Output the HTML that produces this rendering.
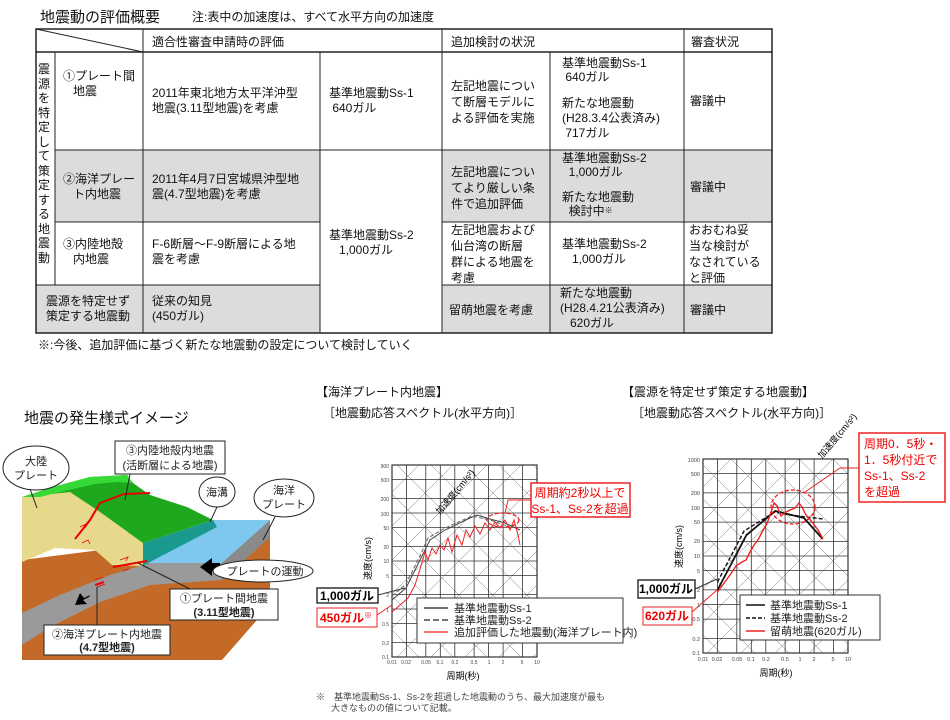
<!DOCTYPE html>
<html><head><meta charset="utf-8"><style>
*{margin:0;padding:0;box-sizing:border-box}
body{width:950px;height:720px;background:#fff;position:relative;overflow:hidden;font-family:"Liberation Sans","Noto Sans CJK JP",sans-serif;color:#111}
.t{position:absolute;font-size:12px;line-height:15px;white-space:nowrap}
svg{position:absolute;left:0;top:0}
</style></head><body>
<svg width="950" height="720" viewBox="0 0 950 720" font-family="Liberation Sans, Noto Sans CJK JP, sans-serif">
<defs>
<pattern id="dg" patternUnits="userSpaceOnUse" width="34" height="34"><path d="M0 34L34 0M0 0L34 34M-4 4L4 -4M30 38L38 30M-4 30L4 38M30 -4L38 4" stroke="#777" stroke-width="0.5" fill="none"/></pattern>
<clipPath id="c1"><rect x="392" y="465" width="145" height="192"/></clipPath>
<clipPath id="c2"><rect x="703" y="459" width="145" height="194"/></clipPath>
</defs>
<rect x="55" y="150" width="265" height="72" fill="#dcdcdc"/>
<rect x="442" y="150" width="330" height="72" fill="#dcdcdc"/>
<rect x="36" y="285" width="284" height="48" fill="#dcdcdc"/>
<rect x="442" y="285" width="330" height="48" fill="#dcdcdc"/>
<g stroke="#222" stroke-width="1" fill="none">
<rect x="36" y="29" width="736" height="304" stroke-width="1.5"/>
<line x1="36" y1="52" x2="772" y2="52" stroke-width="1.5"/>
<line x1="36" y1="29" x2="143" y2="52"/>
<line x1="143" y1="29" x2="143" y2="333"/>
<line x1="442" y1="29" x2="442" y2="333"/>
<line x1="684" y1="29" x2="684" y2="333"/>
<line x1="320" y1="52" x2="320" y2="333"/>
<line x1="550" y1="52" x2="550" y2="333"/>
<line x1="55" y1="52" x2="55" y2="285"/>
<line x1="55" y1="150" x2="442" y2="150"/>
<line x1="442" y1="150" x2="772" y2="150"/>
<line x1="55" y1="222" x2="320" y2="222"/>
<line x1="442" y1="222" x2="772" y2="222"/>
<line x1="36" y1="285" x2="320" y2="285"/>
<line x1="442" y1="285" x2="772" y2="285"/>
</g>

<polygon points="22,560 140,545 222,570 270,535 270,605 222,660 22,660" fill="#c46a28"/>
<polygon points="22,613 60,595 110,575 150,563 222,560 270,520 270,537 222,580 150,585 100,602 50,627 22,645" fill="#9a9a9a"/>
<polygon points="22,497 70,486 100,505 143,543 143,566 112,565 95,550 55,548 22,562" fill="#e6d98c"/>
<polygon points="22,497 53,487 90,477 127,475 133,483 150,495 187,507 213,520 143,543 100,512 70,492" fill="#1ea81e"/>
<polygon points="22,497 53,487 90,477 127,475 133,483 118,482 95,484 60,492 40,497" fill="#36d936"/>
<polygon points="213,520 270,520 222,563 148,563" fill="#7ec8f0"/>
<polygon points="143,543 213,520 217,527 148,563 143,566" fill="#1a9a8e"/>
<polygon points="222,563 270,520 270,537 222,580" fill="#8a8a8a"/>
<g stroke="#e00" stroke-width="2" fill="none">
<polyline points="75,539 90,520 100,503 124,494 150,493"/>
<line x1="113" y1="567" x2="147" y2="561"/>
<line x1="95" y1="585" x2="104" y2="582"/>
</g>
<g stroke="#e00" stroke-width="0.8" fill="none">
<path d="M80 527l8-4-3 5M82 543l6-3 2 4M120 560l8-3-2 4M123 571l6-2M95 580l8-3M97 587l8-3"/>
</g>
<path d="M204 563h8v-5l-12 9 12 9v-5h8v-8z" fill="#000"/>
<path d="M90 595l-6 3-4-5-5 12 12-1-4-4 6-3z" fill="#000"/>
<g fill="#fff" stroke="#222" stroke-width="1">
<ellipse cx="36" cy="468" rx="33" ry="22"/>
<ellipse cx="217" cy="492" rx="18" ry="15"/>
<ellipse cx="284" cy="498" rx="30" ry="19"/>
<ellipse cx="263" cy="571" rx="50" ry="11"/>
<rect x="115" y="441" width="110" height="33"/>
<rect x="170" y="589" width="108" height="31"/>
<rect x="44" y="625" width="126" height="30"/>
</g>
<g stroke="#222" stroke-width="1" fill="none">
<line x1="30" y1="489" x2="37" y2="508"/>
<line x1="130" y1="474" x2="125" y2="500"/>
<line x1="217" y1="507" x2="210" y2="522"/>
<line x1="275" y1="517" x2="263" y2="540"/>
<line x1="138" y1="563" x2="190" y2="589"/>
<line x1="97" y1="587" x2="97" y2="625"/>
</g>
<g font-size="11" text-anchor="middle" fill="#222">
<text x="36" y="465">大陸</text><text x="36" y="479">プレート</text>
<text x="217" y="496">海溝</text>
<text x="284" y="494">海洋</text><text x="284" y="508">プレート</text>
<text x="265" y="575">プレートの運動</text>
<text x="170" y="454">③内陸地殻内地震</text><text x="170" y="469">(活断層による地震)</text>
<text x="224" y="602">①プレート間地震</text><text x="224" y="616" font-weight="bold">(3.11型地震)</text>
<text x="107" y="638">②海洋プレート内地震</text><text x="107" y="651" font-weight="bold">(4.7型地震)</text>
</g>

<g clip-path="url(#c1)"><rect x="380" y="450" width="180" height="220" fill="url(#dg)"/></g>
<g stroke="#333" stroke-width="0.8">
<path d="M392 657H537M392 642.6H537M392 623.4H537M392 609H537M392 594.6H537M392 575.4H537M392 561H537M392 546.6H537M392 527.4H537M392 513H537M392 498.6H537M392 479.4H537M392 465H537"/>
<path d="M392 465V657M406.5 465V657M425.8 465V657M440.3 465V657M454.8 465V657M474.1 465V657M488.6 465V657M503.1 465V657M522.4 465V657M537 465V657"/>
</g>
<rect x="392" y="465" width="145" height="192" fill="none" stroke="#333" stroke-width="1.2"/>
<g fill="none" stroke-width="1">
<polyline stroke="#444" points="392,600 406,588 420,560 430,540 445,530 470,518 477,515 490,519 505,523 520,530"/>
<polyline stroke="#666" stroke-dasharray="4,2" points="392,596 406,584 420,556 428,538 445,528 472,516 490,520 510,527"/>
<polyline stroke="#e22" points="392,612 408,598 415,585 421,566 425,552 428,560 432,548 436,554 440,545 444,550 448,538 452,552 457,535 462,545 466,530 470,537 475,526 480,534 485,523 490,530 495,522 500,528 505,520 510,530 514,520 518,535 520,545"/>
</g>
<ellipse cx="503" cy="520" rx="16" ry="7" fill="none" stroke="#e22" stroke-width="1.3" stroke-dasharray="4,2"/>
<polyline points="505,513 508,500 531,500" fill="none" stroke="#e22" stroke-width="1"/>
<rect x="531" y="483" width="99" height="34" fill="#fff" stroke="#e22" stroke-width="1.5"/>
<g font-size="12" fill="#e00" text-anchor="middle"><text x="580" y="497">周期約2秒以上で</text><text x="580" y="513">Ss-1、Ss-2を超過</text></g>
<rect x="317" y="588" width="61" height="15" fill="#fff" stroke="#333" stroke-width="1.5"/>
<text x="347" y="600" font-size="12" font-weight="bold" text-anchor="middle">1,000ガル</text>
<line x1="378" y1="595" x2="405" y2="588" stroke="#333"/>
<rect x="317" y="608" width="60" height="19" fill="#fff" stroke="#e22" stroke-width="1"/>
<text x="346" y="622" font-size="12" font-weight="bold" fill="#e00" text-anchor="middle">450ガル<tspan font-size="8" dy="-4">※</tspan></text>
<line x1="377" y1="615" x2="392" y2="605" stroke="#e22"/>
<rect x="417" y="598" width="206" height="45" fill="#fff" stroke="#333"/>
<g stroke-width="1.2"><line x1="424" y1="608" x2="448" y2="608" stroke="#222"/><line x1="424" y1="620" x2="448" y2="620" stroke="#222" stroke-dasharray="6,3"/><line x1="424" y1="632" x2="448" y2="632" stroke="#e22"/></g>
<g font-size="11" fill="#222"><text x="454" y="612">基準地震動Ss-1</text><text x="454" y="624">基準地震動Ss-2</text><text x="454" y="636">追加評価した地震動(海洋プレート内)</text></g>
<g font-size="5" fill="#444" text-anchor="end"><text x="389" y="468">900</text><text x="389" y="482">500</text><text x="389" y="501">200</text><text x="389" y="516">100</text><text x="389" y="530">50</text><text x="389" y="549">20</text><text x="389" y="563">10</text><text x="389" y="578">5</text><text x="389" y="597">2</text><text x="389" y="612">1</text><text x="389" y="626">0.5</text><text x="389" y="645">0.2</text><text x="389" y="659">0.1</text></g>
<g font-size="5" fill="#444" text-anchor="middle"><text x="392" y="664">0.01</text><text x="406" y="664">0.02</text><text x="426" y="664">0.05</text><text x="440" y="664">0.1</text><text x="455" y="664">0.2</text><text x="474" y="664">0.5</text><text x="489" y="664">1</text><text x="503" y="664">2</text><text x="522" y="664">5</text><text x="537" y="664">10</text></g>
<text x="371" y="580" font-size="9" transform="rotate(-90 371 580)">速度(cm/s)</text>
<text x="440" y="515" font-size="9" transform="rotate(-50 440 515)">加速度(cm/s²)</text>
<text x="463" y="679" font-size="9" text-anchor="middle">周期(秒)</text>

<g clip-path="url(#c2)"><rect x="690" y="445" width="180" height="220" fill="url(#dg)"/></g>
<g stroke="#333" stroke-width="0.8">
<path d="M703 653H848M703 638.4H848M703 619.1H848M703 604.5H848M703 589.9H848M703 570.6H848M703 556H848M703 541.4H848M703 522.1H848M703 507.5H848M703 492.9H848M703 473.6H848M703 459H848"/>
<path d="M703 459V653M717.5 459V653M736.8 459V653M751.3 459V653M765.8 459V653M785.1 459V653M799.6 459V653M814.1 459V653M833.4 459V653M848 459V653"/>
</g>
<rect x="703" y="459" width="145" height="194" fill="none" stroke="#333" stroke-width="1.2"/>
<g fill="none">
<polyline stroke="#111" stroke-width="1.8" points="717.5,590 746.5,535 775.3,511 804,518 822.7,539"/>
<polyline stroke="#111" stroke-width="1.4" stroke-dasharray="4,2" points="717.5,582 744,531 775,512 790,515 823,519"/>
<polyline stroke="#e22" stroke-width="1.4" points="717.5,592 730,575 736,566 742,562 746,560 750,552 754,545 758,540 762,532 765,527 768,521 771,512 774,503 777,506 781,516 786,512 790,510 795,508 799,503 802,507 806,515 812,522 818,530 823,539"/>
</g>
<ellipse cx="793" cy="507" rx="22" ry="17" fill="none" stroke="#e22" stroke-width="1.3" stroke-dasharray="4,2"/>
<polyline points="805,492 840,468 859,468" fill="none" stroke="#e22" stroke-width="1"/>
<rect x="859" y="433" width="86" height="69" fill="#fff" stroke="#e22" stroke-width="1.5"/>
<g font-size="12" fill="#e00"><text x="864" y="448">周期0．5秒・</text><text x="864" y="464">1．5秒付近で</text><text x="864" y="480">Ss-1、Ss-2</text><text x="864" y="496">を超過</text></g>
<rect x="638" y="580" width="57" height="18" fill="#fff" stroke="#333" stroke-width="1.5"/>
<text x="666" y="593" font-size="12" font-weight="bold" text-anchor="middle">1,000ガル</text>
<line x1="695" y1="589" x2="717" y2="579" stroke="#333"/>
<rect x="643" y="607" width="49" height="18" fill="#fff" stroke="#e22" stroke-width="1"/>
<text x="667" y="620" font-size="12" font-weight="bold" fill="#e00" text-anchor="middle">620ガル</text>
<line x1="692" y1="612" x2="717" y2="590" stroke="#e22"/>
<rect x="740" y="595" width="140" height="45" fill="#fff" stroke="#333"/>
<g stroke-width="1.4"><line x1="746" y1="605" x2="765" y2="605" stroke="#111"/><line x1="746" y1="618" x2="765" y2="618" stroke="#111" stroke-dasharray="4,2"/><line x1="746" y1="631" x2="765" y2="631" stroke="#e22"/></g>
<g font-size="11" fill="#222"><text x="770" y="609">基準地震動Ss-1</text><text x="770" y="622">基準地震動Ss-2</text><text x="770" y="635">留萌地震(620ガル)</text></g>
<g font-size="5.5" fill="#444" text-anchor="end"><text x="700" y="462">1000</text><text x="700" y="476">500</text><text x="700" y="495">200</text><text x="700" y="510">100</text><text x="700" y="524">50</text><text x="700" y="543">20</text><text x="700" y="558">10</text><text x="700" y="573">5</text><text x="700" y="592">2</text><text x="700" y="607">1</text><text x="700" y="621">0.5</text><text x="700" y="641">0.2</text><text x="700" y="655">0.1</text></g>
<g font-size="5.5" fill="#444" text-anchor="middle"><text x="703" y="661">0.01</text><text x="717" y="661">0.02</text><text x="737" y="661">0.05</text><text x="751" y="661">0.1</text><text x="766" y="661">0.2</text><text x="785" y="661">0.5</text><text x="800" y="661">1</text><text x="814" y="661">2</text><text x="833" y="661">5</text><text x="848" y="661">10</text></g>
<text x="682" y="568" font-size="9" transform="rotate(-90 682 568)">速度(cm/s)</text>
<text x="822" y="459" font-size="9" transform="rotate(-50 822 459)">加速度(cm/s²)</text>
<text x="776" y="676" font-size="9" text-anchor="middle">周期(秒)</text>
</svg>

<div class="t" style="left:40px;top:8px;font-size:15px;line-height:20px">地震動の評価概要</div>
<div class="t" style="left:192px;top:10px;font-size:12px">注:表中の加速度は、すべて水平方向の加速度</div>
<div class="t" style="left:152px;top:35px">適合性審査申請時の評価</div>
<div class="t" style="left:451px;top:35px">追加検討の状況</div>
<div class="t" style="left:691px;top:35px">審査状況</div>
<div class="t" style="left:38px;top:62px;width:14px;white-space:normal;line-height:14.5px;font-size:12px">震源を特定して策定する地震動</div>
<div class="t" style="left:63px;top:69px">①プレート間<br>&nbsp;&nbsp;&nbsp;地震</div>
<div class="t" style="left:152px;top:86px">2011年東北地方太平洋沖型<br>地震(3.11型地震)を考慮</div>
<div class="t" style="left:329px;top:86px">基準地震動Ss-1<br>&nbsp;640ガル</div>
<div class="t" style="left:451px;top:78px;line-height:16px">左記地震につい<br>て断層モデルに<br>よる評価を実施</div>
<div class="t" style="left:562px;top:56px;line-height:14px">基準地震動Ss-1<br>&nbsp;640ガル</div>
<div class="t" style="left:562px;top:96px;line-height:15px">新たな地震動<br>(H28.3.4公表済み)<br>&nbsp;717ガル</div>
<div class="t" style="left:690px;top:94px">審議中</div>
<div class="t" style="left:63px;top:172px">②海洋プレー<br>&nbsp;&nbsp;&nbsp;ト内地震</div>
<div class="t" style="left:152px;top:172px">2011年4月7日宮城県沖型地<br>震(4.7型地震)を考慮</div>
<div class="t" style="left:451px;top:164px;line-height:16px">左記地震につい<br>てより厳しい条<br>件で追加評価</div>
<div class="t" style="left:562px;top:151px;line-height:14px">基準地震動Ss-2<br>&nbsp;&nbsp;1,000ガル</div>
<div class="t" style="left:562px;top:190px;line-height:14px">新たな地震動<br>&nbsp;&nbsp;検討中<span style="font-size:8px;vertical-align:top">※</span></div>
<div class="t" style="left:690px;top:180px">審議中</div>
<div class="t" style="left:63px;top:237px">③内陸地殻<br>&nbsp;&nbsp;&nbsp;内地震</div>
<div class="t" style="left:152px;top:237px">F-6断層～F-9断層による地<br>震を考慮</div>
<div class="t" style="left:329px;top:228px">基準地震動Ss-2<br>&nbsp;&nbsp;&nbsp;1,000ガル</div>
<div class="t" style="left:451px;top:222px;line-height:16px">左記地震および<br>仙台湾の断層<br>群による地震を<br>考慮</div>
<div class="t" style="left:562px;top:237px">基準地震動Ss-2<br>&nbsp;&nbsp;&nbsp;1,000ガル</div>
<div class="t" style="left:689px;top:222px;line-height:16px">おおむね妥<br>当な検討が<br>なされている<br>と評価</div>
<div class="t" style="left:46px;top:294px">震源を特定せず<br>策定する地震動</div>
<div class="t" style="left:152px;top:294px">従来の知見<br>(450ガル)</div>
<div class="t" style="left:449px;top:303px">留萌地震を考慮</div>
<div class="t" style="left:560px;top:286px;line-height:15px">新たな地震動<br>(H28.4.21公表済み)<br>&nbsp;&nbsp;&nbsp;620ガル</div>
<div class="t" style="left:690px;top:303px">審議中</div>
<div class="t" style="left:38px;top:338px">※:今後、追加評価に基づく新たな地震動の設定について検討していく</div>
<div class="t" style="left:24px;top:409px;font-size:15px;line-height:20px">地震の発生様式イメージ</div>
<div class="t" style="left:316px;top:385px">【海洋プレート内地震】</div>
<div class="t" style="left:323px;top:406px">［地震動応答スペクトル(水平方向)］</div>
<div class="t" style="left:622px;top:385px">【震源を特定せず策定する地震動】</div>
<div class="t" style="left:632px;top:406px">［地震動応答スペクトル(水平方向)］</div>
<div class="t" style="left:316px;top:692px;font-size:9px;line-height:11px;color:#444">※　基準地震動Ss-1、Ss-2を超過した地震動のうち、最大加速度が最も<br>&nbsp;&nbsp;&nbsp;&nbsp;&nbsp;&nbsp;大きなものの値について記載。</div>
</body></html>
